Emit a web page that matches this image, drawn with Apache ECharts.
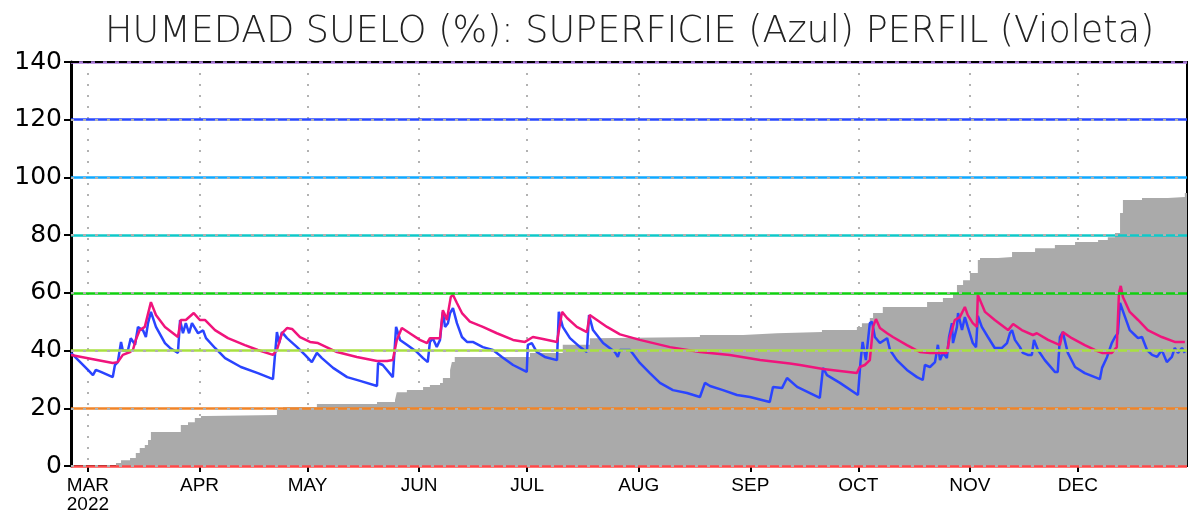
<!DOCTYPE html>
<html>
<head>
<meta charset="utf-8">
<script src="https://cdn.jsdelivr.net/npm/echarts@6/dist/echarts.min.js"></script>
<style>
  html, body { margin: 0; padding: 0; background: #fff; }
  #main { width: 1191px; height: 514px; }
</style>
</head>
<body>
<div id="main"></div>
<script>
// dias del año 2022 (1 ene = 0)
var monthStarts = [59, 90, 120, 151, 181, 212, 243, 273, 304, 334];
var monthLabels = ['MAR\n2022', 'APR', 'MAY', 'JUN', 'JUL', 'AUG', 'SEP', 'OCT', 'NOV', 'DEC'];

// niveles de referencia
var levels = [0, 20, 40, 60, 80, 100, 120, 140];
var levelColors = ['#ff4848', '#f08428', '#a8e040', '#10d010', '#10c8c8', '#10a8ff', '#2848ff', '#a878d8'];

// superficie (azul)
var superficie = [
  [54.3,39.2],[59,33.3],[60.4,31.5],[61.2,33.3],[62.6,32.6],[65.9,30.8],[66.5,35],[67.3,36],[68.2,43],[68.7,40],
  [70.1,40],[70.9,44.3],[72.1,42],[72.9,48.2],[74.3,47],[75.1,44.7],[75.7,49.5],[76.5,53.4],[77.9,48.2],[80.4,42.6],
  [81.8,40.9],[84,39.2],[84.6,50.6],[85.4,46],[86.2,49.5],[87.1,46],[87.9,49.5],[89.6,46],[91,47],[91.8,44.3],
  [94.3,40.9],[97.1,37.4],[101.5,34.3],[106.2,32.2],[110.4,30.1],[111.5,46.4],[112.1,42.6],[112.9,46.4],[114.3,44.3],
  [117.1,41.2],[119.3,38.5],[121.2,36],[122.6,39.2],[124,37.4],[127.1,34],[131,30.8],[134.6,29.5],[139.3,27.7],
  [139.6,35.7],[140.9,35],[143.7,30.8],[144.6,48.2],[145.7,43.7],[147.6,42],[150.4,39.5],[152.1,37.4],[153.4,36],
  [154,43],[154.8,44.3],[155.9,41.2],[156.8,43.7],[157.6,53.4],[158.2,48.2],[159,49.5],[159.6,53],[160.4,54.7],
  [161.5,49.5],[162.9,44.7],[164.3,43],[165.9,43],[168.7,41.2],[171.5,40.2],[174,37.8],[177.1,35],[179.8,33.3],
  [180.9,32.6],[181.2,42],[182.3,42.6],[183.7,39.5],[185.9,37.8],[189.3,36.7],[189.8,53.4],[190.9,48.2],[192.9,44.3],
  [195.7,41.2],[197.6,39.5],[198.2,52.3],[199.3,47.1],[202.1,42.6],[205.4,39.5],[206.2,37.8],[206.8,40.2],[209.6,40.2],
  [212.3,35.7],[215.1,32.2],[217.9,28.8],[221.5,26.3],[225.4,25.3],[229,23.9],[230.4,28.8],[231.8,27.7],[235.4,26.3],
  [239.3,24.6],[242.9,23.9],[248.4,22.2],[249.3,27.4],[251.8,27],[253.2,30.5],[256,27.4],[262.3,23.6],[263.2,34],
  [264.3,31.5],[267.9,28.8],[272.9,24.6],[273.6,36],[274.2,43],[275.1,36.7],[276.2,49.5],[276.8,50],[277.6,44.7],
  [279,42.6],[281,44.3],[281.8,40.2],[283.7,36.7],[286.5,33.3],[289.3,30.8],[290.9,29.8],[291.5,35],[292.9,34.3],
  [294.3,36],[295.1,42],[295.7,36.7],[296.5,39.2],[297.6,37.4],[298.2,44.7],[299,49.5],[299.3,42.6],[300.4,48.2],
  [300.7,53],[301.8,47.1],[302.6,51.6],[303.4,48.2],[304.8,42.6],[305.7,41.2],[306.2,52],[307.3,48.2],[309,44.7],
  [310.9,40.9],[312.9,40.9],[314.3,42.6],[315.1,46],[315.7,47.1],[316.5,43.7],[317.9,41.2],[318.7,39.2],[320.1,38.5],
  [321.2,38.5],[321.8,43.7],[322.9,40.2],[324.8,36.7],[327.6,32.6],[328.4,32.6],[329,44.7],[329.8,46.4],[331.2,39.2],
  [333.2,34.3],[335.9,32.2],[338.7,30.8],[340.1,30.1],[340.7,34],[342.1,37.8],[343.4,42.6],[344.3,44.7],[345.1,46],
  [345.7,56.5],[347.1,51.6],[348.4,47.1],[349.8,45.4],[350.7,44.3],[351.8,44.7],[353.2,40.2],[354.6,38.5],[356,37.8],
  [357.3,40.2],[358.7,36],[360.1,37.8],[360.9,40.9],[361.8,39.2],[362.9,40.9],[363.7,39.2]
];

// perfil (violeta)
var perfil = [
  [54.3,38.5],[65.9,35.7],[67.3,36],[68.7,38.5],[70.7,39.5],[71.5,40.2],[72.3,43.7],[73.4,47.1],[74.8,48.2],[76.5,56.8],
  [77.9,52.3],[80.4,48.2],[84,44.7],[84.8,50.6],[86.2,50.6],[88.4,53],[90.1,50.6],[91.5,50.6],[94.3,47.1],[97.9,44.3],
  [102.6,41.9],[106.2,40.2],[110.4,38.5],[111.5,40.2],[112.9,46],[114.3,47.8],[115.7,47.5],[117.9,44.7],[120.7,43],
  [122.9,42.6],[128.2,39.5],[133.7,37.8],[139.3,36.4],[142.1,36.4],[143.7,36.7],[144.8,43.7],[146.2,47.8],[148.4,46],
  [151.2,43.7],[153.2,42.6],[154,44.3],[156.8,44.3],[157.6,54],[158.2,52.3],[158.7,50.6],[159.8,58.6],[160.4,59.3],
  [161.5,56.5],[162.9,53],[165.1,50],[168.7,48.2],[172.6,46],[177.1,43.7],[180.4,43],[182.6,44.7],[185.4,44],
  [189.3,43],[190.7,53.4],[192.1,51.3],[194.8,48.2],[197.6,46.4],[198.4,52.3],[200.4,50.6],[203.2,48.2],[206.8,45.6],
  [212.3,43.7],[220.7,41.2],[229,39.5],[237.3,38.5],[245.7,36.7],[254,35.5],[256.8,35],[263.2,33.6],[272.6,32.2],
  [273.4,34.3],[274.8,35],[276.2,36.7],[277.1,48.2],[277.9,50.9],[279,47.8],[281,46],[282.6,44.7],[286.5,41.9],
  [290.1,39.5],[292.9,39.2],[297.6,39.2],[298.4,44.7],[299.8,50.6],[301.2,51.6],[302.6,55.1],[303.4,52.3],[304.8,49.5],
  [305.9,48.2],[306.2,59.3],[308.2,53.4],[310.9,50.6],[314.6,47.1],[316,49.2],[318.4,47.1],[321.5,45.4],[322.6,46],
  [325.7,43.7],[329,41.9],[329.8,46.4],[332.3,44.3],[335.9,41.9],[338.7,40.2],[340.7,39.2],[343.4,39.2],[344.8,41.2],
  [345.4,60],[345.9,62.4],[346.5,58.6],[348.4,53.4],[350.7,50.6],[353.4,47.1],[357.3,44.7],[360.9,43],[363.7,43]
];

// area gris (escalonada)
var acumulado = [
  [54,0],[66,0],[66.8,1],[68.2,2],[70.7,2.8],[72.3,4.5],[73.4,6.2],[74.8,7.3],[75.7,9],[76.5,11.8],[84.8,14.2],
  [86.8,15.2],[88.7,16.6],[90.4,17.3],[91.8,17.7],[111.5,19.4],[113.2,20.4],[122.6,21.5],[139.3,22.2],[144.3,22.9],
  [144.8,25.6],[147.6,26.3],[152.1,27.4],[154,28.1],[156.8,28.8],[157.6,30.5],[159.6,33.3],[160.1,36],[160.9,37.8],
  [181.8,39.2],[190.9,42],[198.4,44.3],[199.3,44.7],[229,45.4],[241,46],[250.4,46.4],[262.9,47.1],[272.6,48.2],
  [274,49.5],[276.2,51.3],[277.1,53],[279.8,55.1],[292.1,56.8],[296.5,58.2],[299.3,59.9],[300.4,62.7],[302.1,64.4],
  [304,66.9],[306.2,71.4],[306.8,72.1],[311.8,72.4],[315.7,74.2],[322.1,75.5],[327.6,76.6],[333.2,77.6],[339.6,78.3],
  [342.3,79.3],[344.3,80.7],[345.7,87.7],[346.5,92.2],[351.8,92.9],[359,93.2],[363.7,94.6],[365,95]
];

var chart = echarts.init(document.getElementById('main'));

var baseLines = levels.map(function (v, i) {
  return { yAxis: v, lineStyle: { color: levelColors[i], width: 2.5, type: 'solid' } };
});
var dashLines = levels.map(function (v) {
  if (v == 140) {
    return { yAxis: v, lineStyle: { color: '#000', width: 2, type: [8, 4] } };
  }
  return { yAxis: v, lineStyle: { color: '#b0b0b0', width: 2, type: [3, 9] } };
});

chart.setOption({
  animation: false,
  title: {
    text: 'HUMEDAD SUELO (%): SUPERFICIE (Azul) PERFIL (Violeta)',
    left: 100,
    top: 9,
    textStyle: {
      fontFamily: 'DejaVu Sans',
      fontWeight: 200,
      fontSize: 36.5,
      color: '#222'
    }
  },
  grid: {
    left: 71,
    right: 4,
    top: 62,
    bottom: 48,
    show: true,
    borderColor: '#000',
    borderWidth: 2,
    backgroundColor: 'transparent'
  },
  xAxis: {
    type: 'value',
    min: 54.3,
    max: 364.3,
    axisLine: { show: false },
    axisTick: {
      show: true,
      customValues: monthStarts,
      length: 6,
      lineStyle: { color: '#000', width: 2 }
    },
    axisLabel: {
      customValues: monthStarts,
      margin: 10,
      color: '#000',
      fontFamily: 'Liberation Sans Narrow, Liberation Sans',
      fontSize: 19,
      lineHeight: 19,
      formatter: function (v) {
        var i = monthStarts.indexOf(v);
        return i >= 0 ? monthLabels[i] : '';
      }
    },
    splitLine: {
      show: true,
      lineStyle: { color: '#999', width: 1.5, type: [2, 9] }
    }
  },
  yAxis: {
    type: 'value',
    min: 0,
    max: 140,
    interval: 20,
    axisLine: { show: true, lineStyle: { color: '#000', width: 3 } },
    axisTick: { show: true, length: 7, lineStyle: { color: '#000', width: 2 } },
    axisLabel: {
      color: '#000',
      fontFamily: 'DejaVu Sans',
      fontSize: 25,
      margin: 9
    },
    splitLine: { show: false }
  },
  series: [
    {
      name: 'acumulado',
      type: 'line',
      step: 'end',
      data: acumulado,
      symbol: 'none',
      lineStyle: { width: 0 },
      areaStyle: { color: '#aaaaaa', opacity: 1 },
      z: 1,
      markLine: {
        silent: true,
        symbol: 'none',
        label: { show: false },
        data: baseLines
      }
    },
    {
      name: 'rejilla',
      type: 'line',
      data: [],
      z: 2,
      markLine: {
        silent: true,
        symbol: 'none',
        label: { show: false },
        data: dashLines
      }
    },
    {
      name: 'superficie',
      type: 'line',
      data: superficie,
      symbol: 'none',
      lineStyle: { color: '#2a44ff', width: 2.5 },
      z: 3
    },
    {
      name: 'perfil',
      type: 'line',
      data: perfil,
      symbol: 'none',
      lineStyle: { color: '#f0147c', width: 2.5 },
      z: 4
    }
  ]
});
</script>
</body>
</html>
